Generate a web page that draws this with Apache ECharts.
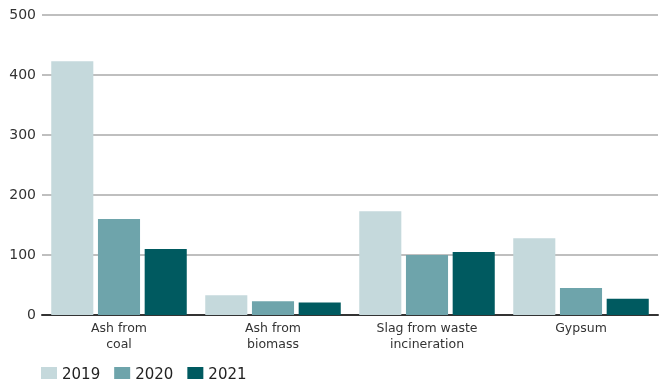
<!DOCTYPE html>
<html><head><meta charset="utf-8">
<script src="https://cdn.jsdelivr.net/npm/echarts@6/dist/echarts.min.js"></script>
<style>html,body{margin:0;padding:0;background:#fff}#c{width:660px;height:379px}</style>
</head><body><div id="c"></div>
<script>
const categories = ["Ash from\ncoal", "Ash from\nbiomass", "Slag from waste\nincineration", "Gypsum"];
const years = ["2019", "2020", "2021"];
const v2019 = [423, 33, 173, 128];
const v2020 = [160, 23, 100, 45];
const v2021 = [110, 21, 105, 27];
const yTicks = [0, 100, 200, 300, 400, 500];
const colors = ["#c5d9dc", "#6ea4ab", "#005a60"];
const seriesValues = [v2019, v2020, v2021];

const chart = echarts.init(document.getElementById('c'), null, {renderer: 'canvas'});
const font = "DejaVu Sans";
chart.setOption({
  animation: false,
  textStyle: {fontFamily: font},
  grid: {left: 42, right: 2, top: 15, bottom: 64},
  legend: {
    left: 36, top: 362, itemWidth: 16, itemHeight: 16, itemGap: 14,
    icon: 'rect',
    textStyle: {fontSize: 15, color: '#222', fontFamily: font},
    data: years
  },
  xAxis: {
    type: 'category', data: categories,
    axisLine: {lineStyle: {color: '#333', width: 2}},
    axisTick: {show: false},
    axisLabel: {fontSize: 12.5, color: '#333', lineHeight: 16, margin: 6, interval: 0, fontFamily: font}
  },
  yAxis: {
    type: 'value', min: yTicks[0], max: yTicks[yTicks.length - 1], interval: 100,
    axisLine: {show: false}, axisTick: {show: false},
    axisLabel: {fontSize: 14, color: '#333', margin: 6, fontFamily: font},
    splitLine: {lineStyle: {color: '#aaaaaa', width: 1.5}}
  },
  series: years.map((y, i) => ({
    name: y, type: 'bar', data: seriesValues[i],
    itemStyle: {color: colors[i]},
    barGap: '11%', barCategoryGap: '12%'
  }))
});
</script></body></html>
